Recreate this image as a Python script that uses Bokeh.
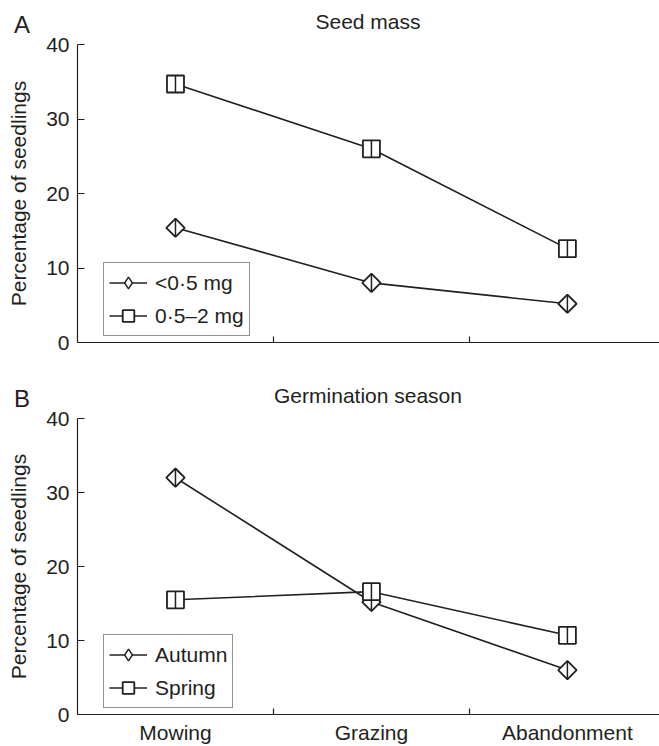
import math
from bokeh.plotting import figure
from bokeh.layouts import column
from bokeh.models import (FixedTicker, Legend, LegendItem, Range1d,
                          ColumnDataSource, Div)
from bokeh.embed import file_html
from bokeh.resources import INLINE

categories = ["Mowing", "Grazing", "Abandonment"]
y_ticks = [0, 10, 20, 30, 40]

seed_small = [15.4, 8.0, 5.2]
seed_large = [34.7, 26.0, 12.6]
season_autumn = [32.0, 15.2, 6.0]
season_spring = [15.5, 16.6, 10.7]

FONT = "Liberation Sans"
INK = "#231f20"
W = 659
FRAME_LEFT = 77
xpos = [i + 0.5 for i in range(len(categories))]


def make_header(letter, title, height, letter_top, title_top):
    html = (
        f'<div style="position:relative;width:{W}px;height:{height}px;'
        f"font-family:'{FONT}';color:{INK};\">"
        f'<span style="position:absolute;left:14px;top:{letter_top}px;'
        f'font-size:24px;line-height:24px;white-space:nowrap;">{letter}</span>'
        f'<span style="position:absolute;left:{FRAME_LEFT}px;width:{W - FRAME_LEFT}px;'
        f'text-align:center;top:{title_top}px;font-size:21px;line-height:21px;'
        f'white-space:nowrap;">{title}</span></div>'
    )
    return Div(text=html, width=W, height=height, margin=0)


def make_panel(s1, n1, s2, n2, height, top, bottom, show_labels):
    p = figure(width=W, height=height, output_backend="svg", toolbar_location=None,
               x_range=Range1d(0, 2.97), y_range=Range1d(0, 40),
               min_border_left=FRAME_LEFT, min_border_right=0, min_border_top=top,
               min_border_bottom=bottom)
    p.outline_line_color = None
    p.xgrid.visible = False
    p.ygrid.visible = False

    p.xaxis.ticker = FixedTicker(ticks=xpos, minor_ticks=[1, 2])
    if show_labels:
        p.xaxis.major_label_overrides = {x: c for x, c in zip(xpos, categories)}
    else:
        p.xaxis.major_label_overrides = {x: "" for x in xpos}
    p.xaxis.major_tick_in = 0
    p.xaxis.major_tick_out = 0
    p.xaxis.minor_tick_in = 6
    p.xaxis.minor_tick_out = 0
    p.xaxis.major_label_standoff = 6
    p.yaxis.ticker = FixedTicker(ticks=y_ticks)
    p.yaxis.major_tick_in = 7
    p.yaxis.major_tick_out = 0
    p.yaxis.minor_tick_line_color = None
    p.yaxis.major_label_standoff = 8
    p.yaxis.axis_label = "Percentage of seedlings"
    p.yaxis.axis_label_standoff = 13
    for ax in (p.xaxis[0], p.yaxis[0]):
        ax.axis_line_color = INK
        ax.axis_line_width = 1.2
        ax.major_tick_line_color = INK
        ax.major_label_text_font = FONT
        ax.major_label_text_font_size = "21px"
        ax.major_label_text_color = INK
        ax.axis_label_text_font = FONT
        ax.axis_label_text_font_size = "21px"
        ax.axis_label_text_font_style = "normal"
        ax.axis_label_text_color = INK
    p.xaxis.minor_tick_line_color = INK
    p.xaxis.minor_tick_line_width = 1.2
    p.yaxis.major_tick_line_width = 1.2

    items = []
    for ys, name, kind in ((s1, n1, "diamond"), (s2, n2, "square")):
        src = ColumnDataSource(dict(x=xpos, y=ys))
        ln = p.line("x", "y", source=src, line_color=INK, line_width=1.6)
        if kind == "diamond":
            # legend proxy, hidden beneath the rotated squares on the plot
            proxy = p.scatter("x", "y", source=src, marker="diamond", size=10,
                              fill_color="white", line_color=INK, line_width=1.4)
            p.scatter("x", "y", source=src, marker="square", size=13,
                      angle=math.pi / 4, fill_color="white", line_color=INK,
                      line_width=1.8)
            h = 18
        else:
            proxy = p.scatter("x", "y", source=src, marker="square", size=17,
                              fill_color="white", line_color=INK, line_width=1.8)
            h = 17
        p.scatter("x", "y", source=src, marker="dash", size=h, angle=math.pi / 2,
                  line_color=INK, line_width=1.5)
        items.append(LegendItem(label=name, renderers=[ln, proxy]))

    legend = Legend(items=items, location=(26, 6), border_line_color=INK,
                    border_line_width=1.2, background_fill_color="white",
                    background_fill_alpha=1.0,
                    label_text_font=FONT, label_text_font_size="21px",
                    label_text_color=INK, glyph_width=38, glyph_height=29,
                    label_height=29, spacing=4, padding=5, label_standoff=8,
                    margin=0)
    p.add_layout(legend, "center")
    return p


ha = make_header("A", "Seed mass", 34, 12.7, 11.2)
pa = make_panel(seed_small, "<0\u00b75 mg", seed_large, "0\u00b75\u20132 mg",
                346, 10, 38, False)
hb = make_header("B", "Germination season", 28, 6.7, 5.2)
pb = make_panel(season_autumn, "Autumn", season_spring, "Spring",
                338, 10, 29, True)

layout = column(ha, pa, hb, pb, spacing=0)
open("out.html", "w").write(file_html(layout, INLINE))
